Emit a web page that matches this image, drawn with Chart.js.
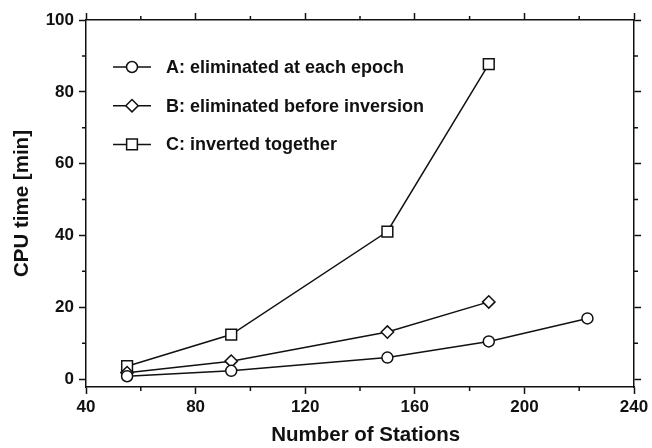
<!DOCTYPE html>
<html>
<head>
<meta charset="utf-8">
<script src="https://cdn.jsdelivr.net/npm/chart.js@4/dist/chart.umd.min.js"></script>
<style>
  html, body { margin: 0; padding: 0; background: #fff; }
  #wrap { width: 652px; height: 448px; }
</style>
</head>
<body>
<div id="wrap"><canvas id="chart" width="652" height="448"></canvas></div>
<script>
// number of stations for each run
var stationsA  = [55, 93, 150, 187, 223];
var stationsBC = [55, 93, 150, 187];

// CPU time in minutes
var cpuA = [0.8, 2.3, 6.0, 10.5, 16.9];
var cpuB = [1.8, 5.0, 13.1, 21.5];
var cpuC = [3.6, 12.4, 41.1, 87.7];

var seriesNames  = ['A: eliminated at each epoch', 'B: eliminated before inversion', 'C: inverted together'];
var seriesShapes = ['circle', 'rectRot', 'rect'];

// tick values
var xTicks      = [40, 80, 120, 160, 200, 240];
var xMinorTicks = [60, 100, 140, 180, 220];
var yTicks      = [0, 20, 40, 60, 80, 100];
var yMinorTicks = [10, 30, 50, 70, 90];

var FONT = "'Liberation Sans', Arial, Helvetica, sans-serif";
var INK  = '#111';

function toPoints(xs, ys) {
   return xs.map(function(x, i) { return {x: x, y: ys[i]}; });
}

function setTicks(values) {
   return function(scale) {
      scale.ticks = values.map(function(v) { return {value: v}; });
   };
}

// draws the legend inside the plot: short line + marker + label
var lineLegend = {
   id: 'lineLegend',
   afterDatasetsDraw: function(chart) {
      var ctx = chart.ctx;
      ctx.save();
      chart.data.datasets.forEach(function(ds, i) {
         var y = 67 + i * 38.7;
         var cx = 132;
         ctx.strokeStyle = INK;
         ctx.lineWidth = ds.borderWidth;
         ctx.beginPath();
         ctx.moveTo(113, y);
         ctx.lineTo(151, y);
         ctx.stroke();

         ctx.fillStyle = '#fff';
         ctx.beginPath();
         var r = ds.pointRadius;
         if (ds.pointStyle === 'circle') {
            ctx.arc(cx, y, r, 0, Math.PI * 2);
         } else if (ds.pointStyle === 'rectRot') {
            ctx.moveTo(cx - r, y);
            ctx.lineTo(cx, y - r);
            ctx.lineTo(cx + r, y);
            ctx.lineTo(cx, y + r);
            ctx.closePath();
         } else {
            var h = r * Math.SQRT1_2;
            ctx.rect(cx - h, y - h, 2 * h, 2 * h);
         }
         ctx.fill();
         ctx.stroke();

         ctx.fillStyle = INK;
         ctx.font = 'bold 18px ' + FONT;
         ctx.textBaseline = 'middle';
         ctx.textAlign = 'left';
         ctx.fillText(ds.label, 166, y + 1);
      });
      ctx.restore();
   }
};

// short minor ticks on the four sides of the frame
var minorTicks = {
   id: 'minorTicks',
   afterDraw: function(chart) {
      var ctx = chart.ctx;
      var a = chart.chartArea;
      var xs = chart.scales.x;
      var ys = chart.scales.y;
      var len = 4;
      ctx.save();
      ctx.strokeStyle = INK;
      ctx.lineWidth = 1.5;
      ctx.beginPath();
      xMinorTicks.forEach(function(v) {
         var px = xs.getPixelForValue(v);
         ctx.moveTo(px, a.bottom);
         ctx.lineTo(px, a.bottom + len);
         ctx.moveTo(px, a.top);
         ctx.lineTo(px, a.top - len);
      });
      yMinorTicks.forEach(function(v) {
         var py = ys.getPixelForValue(v);
         ctx.moveTo(a.left, py);
         ctx.lineTo(a.left - len, py);
         ctx.moveTo(a.right, py);
         ctx.lineTo(a.right + len, py);
      });
      ctx.stroke();
      ctx.restore();
   }
};

function makeDataset(i, points, radius) {
   return {
      label: seriesNames[i],
      data: points,
      borderColor: INK,
      borderWidth: 1.5,
      backgroundColor: '#fff',
      pointStyle: seriesShapes[i],
      pointRadius: radius,
      pointBorderWidth: 1.5,
      pointBackgroundColor: '#fff',
      pointBorderColor: INK,
      tension: 0,
      fill: false
   };
}

var gridOpts = {
   drawOnChartArea: false,
   drawTicks: true,
   tickLength: 7,
   tickWidth: 1.5,
   tickColor: INK
};
var borderOpts = {display: true, color: INK, width: 1.5};

new Chart(document.getElementById('chart'), {
   type: 'line',
   data: {
      datasets: [
         makeDataset(0, toPoints(stationsA, cpuA), 5.5),
         makeDataset(1, toPoints(stationsBC, cpuB), 6.2),
         makeDataset(2, toPoints(stationsBC, cpuC), 7.6)
      ]
   },
   options: {
      responsive: false,
      animation: false,
      devicePixelRatio: 1,
      layout: {padding: 0},
      plugins: {
         legend: {display: false},
         tooltip: {enabled: false}
      },
      scales: {
         x: {
            type: 'linear',
            position: 'bottom',
            min: 40, max: 240,
            afterBuildTicks: setTicks(xTicks),
            afterFit: function(s) { s.height = 61; },
            grid: gridOpts,
            border: borderOpts,
            ticks: {
               color: INK,
               padding: 3,
               maxRotation: 0,
               font: {family: FONT, size: 17, weight: 'bold'}
            },
            title: {
               display: true,
               text: '  Number of Stations',
               color: INK,
               font: {family: FONT, size: 20.5, weight: 'bold'},
               padding: {top: 0, bottom: 0}
            }
         },
         x2: {
            type: 'linear',
            position: 'top',
            min: 40, max: 240,
            afterBuildTicks: setTicks(xTicks),
            afterFit: function(s) { s.height = 20; },
            grid: gridOpts,
            border: borderOpts,
            ticks: {display: false}
         },
         y: {
            type: 'linear',
            position: 'left',
            min: -2.2, max: 100,
            afterBuildTicks: setTicks(yTicks),
            afterFit: function(s) { s.width = 86; },
            grid: gridOpts,
            border: borderOpts,
            ticks: {
               color: INK,
               padding: 5,
               font: {family: FONT, size: 17, weight: 'bold'}
            },
            title: {
               display: true,
               text: 'CPU time [min]',
               color: INK,
               font: {family: FONT, size: 20.5, weight: 'bold'},
               padding: {top: 10.5, bottom: 0}
            }
         },
         y2: {
            type: 'linear',
            position: 'right',
            min: -2.2, max: 100,
            afterBuildTicks: setTicks(yTicks),
            afterFit: function(s) { s.width = 18; },
            grid: gridOpts,
            border: borderOpts,
            ticks: {display: false}
         }
      }
   },
   plugins: [lineLegend, minorTicks]
});
</script>
</body>
</html>
